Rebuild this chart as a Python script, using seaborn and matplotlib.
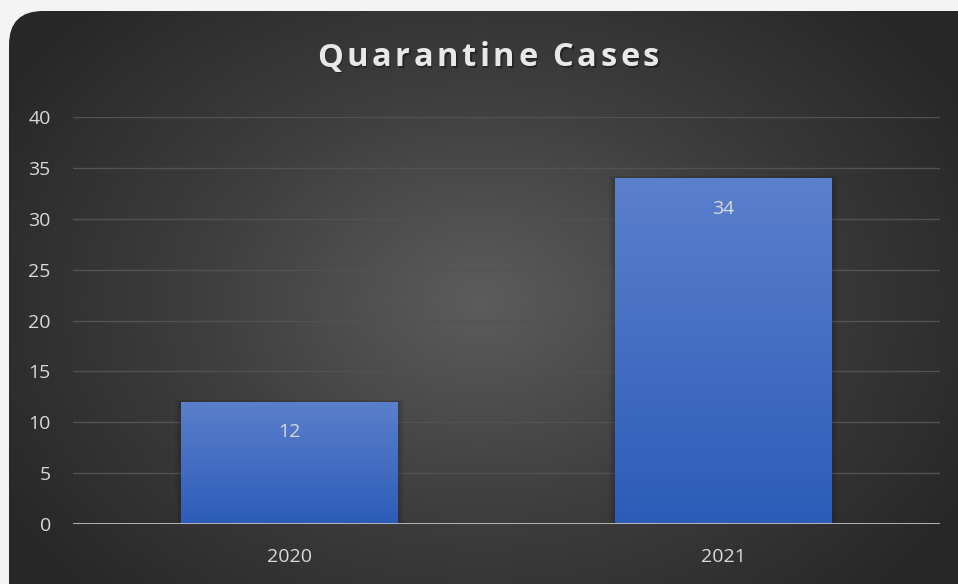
import numpy as np
import pandas as pd
import matplotlib
matplotlib.use("Agg")
import matplotlib.pyplot as plt
import seaborn as sns
from matplotlib.patches import FancyBboxPatch
from matplotlib.colors import LinearSegmentedColormap

years = ["2020", "2021"]
cases = [12, 34]
y_ticks = [0, 5, 10, 15, 20, 25, 30, 35, 40]
title = "Quarantine Cases"

sns.set_style("dark")
plt.rcParams["font.family"] = ["Open Sans", "DejaVu Sans"]

df = pd.DataFrame({"year": years, "cases": cases})

W, H = 958, 584
fig = plt.figure(figsize=(W / 100, H / 100), dpi=100)
fig.patch.set_facecolor("#f4f4f4")

# background panel with radial gradient, rounded corners
bg = fig.add_axes([0, 0, 1, 1])
bg.set_xlim(0, W)
bg.set_ylim(H, 0)
bg.axis("off")
yy, xx = np.mgrid[0:H, 0:W]
r = np.sqrt(((xx - 480) / 560) ** 2 + ((yy - 300) / 420) ** 2)
bg_cmap = LinearSegmentedColormap.from_list("bg", ["#5c5c5c", "#3e3e3e", "#272727"])
im = bg.imshow(np.clip(r, 0, 1), cmap=bg_cmap, extent=(0, W, H, 0), vmin=0, vmax=1, zorder=0)
panel = FancyBboxPatch((9, 11), W + 40, H + 40, boxstyle="round,pad=0,rounding_size=34",
                       transform=bg.transData, facecolor="none", edgecolor="none")
bg.add_patch(panel)
im.set_clip_path(panel)

# main axes
ax = fig.add_axes([73 / W, 60 / H, (940 - 73) / W, (524 - 117) / H])
ax.patch.set_alpha(0)
sns.barplot(data=df, x="year", y="cases", ax=ax, width=0.5, color="#4472c4", zorder=3)
ax.set_ylim(0, 40)
ax.set_yticks(y_ticks)
ax.set_xlabel("")
ax.set_ylabel("")
for s in ax.spines.values():
    s.set_visible(False)
ax.grid(axis="y", color="#525252", lw=1, zorder=0)
ax.grid(axis="x", visible=False)
ax.axhline(0, color="#c0c0c0", lw=2, zorder=4)
ax.tick_params(axis="both", length=0, colors="#d9d9d9", labelsize=14)
ax.tick_params(axis="y", pad=16)
ax.tick_params(axis="x", pad=17)

bar_cmap = LinearSegmentedColormap.from_list("bar", ["#5b80cc", "#2c5cb8"])
grad = np.linspace(0, 1, 256).reshape(-1, 1)
for p, v in zip(ax.patches, cases):
    x0, w, h = p.get_x(), p.get_width(), p.get_height()
    p.set_facecolor("none")
    p.set_edgecolor("none")
    # soft shadow
    for k, a in [(0.014, 0.06), (0.007, 0.10)]:
        ax.add_patch(plt.Rectangle((x0 - k, 0), w + 2 * k, h + k * 15, color="black",
                                   alpha=a, lw=0, zorder=2))
    gim = ax.imshow(grad, cmap=bar_cmap, extent=(x0, x0 + w, 0, h), aspect="auto",
                    zorder=3, origin="upper")
    gim.set_clip_path(p)
    ax.text(x0 + w / 2, h - 3.0, str(v), ha="center", va="center", color="#d9d9d9",
            fontsize=14, zorder=5)
ax.set_xlim(-0.5, 1.5)
ax.set_ylim(0, 40)

# letter-spaced title
fig.canvas.draw()
renderer = fig.canvas.get_renderer()
spacing = 3.6
chars = []
total = 0
for ch in title:
    t = fig.text(0, 0, ch, fontsize=23.5, fontweight="bold", color="#e8e8e8", va="center")
    wpx = t.get_window_extent(renderer).width if ch != " " else 8
    chars.append((t, wpx))
    total += wpx + spacing
total -= spacing
x = 488 - total / 2
for t, wpx in chars:
    t.set_position((x / W, 1 - 58 / H))
    fig.text((x + 1.5) / W, 1 - 59.5 / H, t.get_text(), fontsize=23.5, fontweight="bold",
             color="black", alpha=0.35, va="center", zorder=t.get_zorder() - 0.1)
    x += wpx + spacing

fig.savefig("out.png", dpi=100)
